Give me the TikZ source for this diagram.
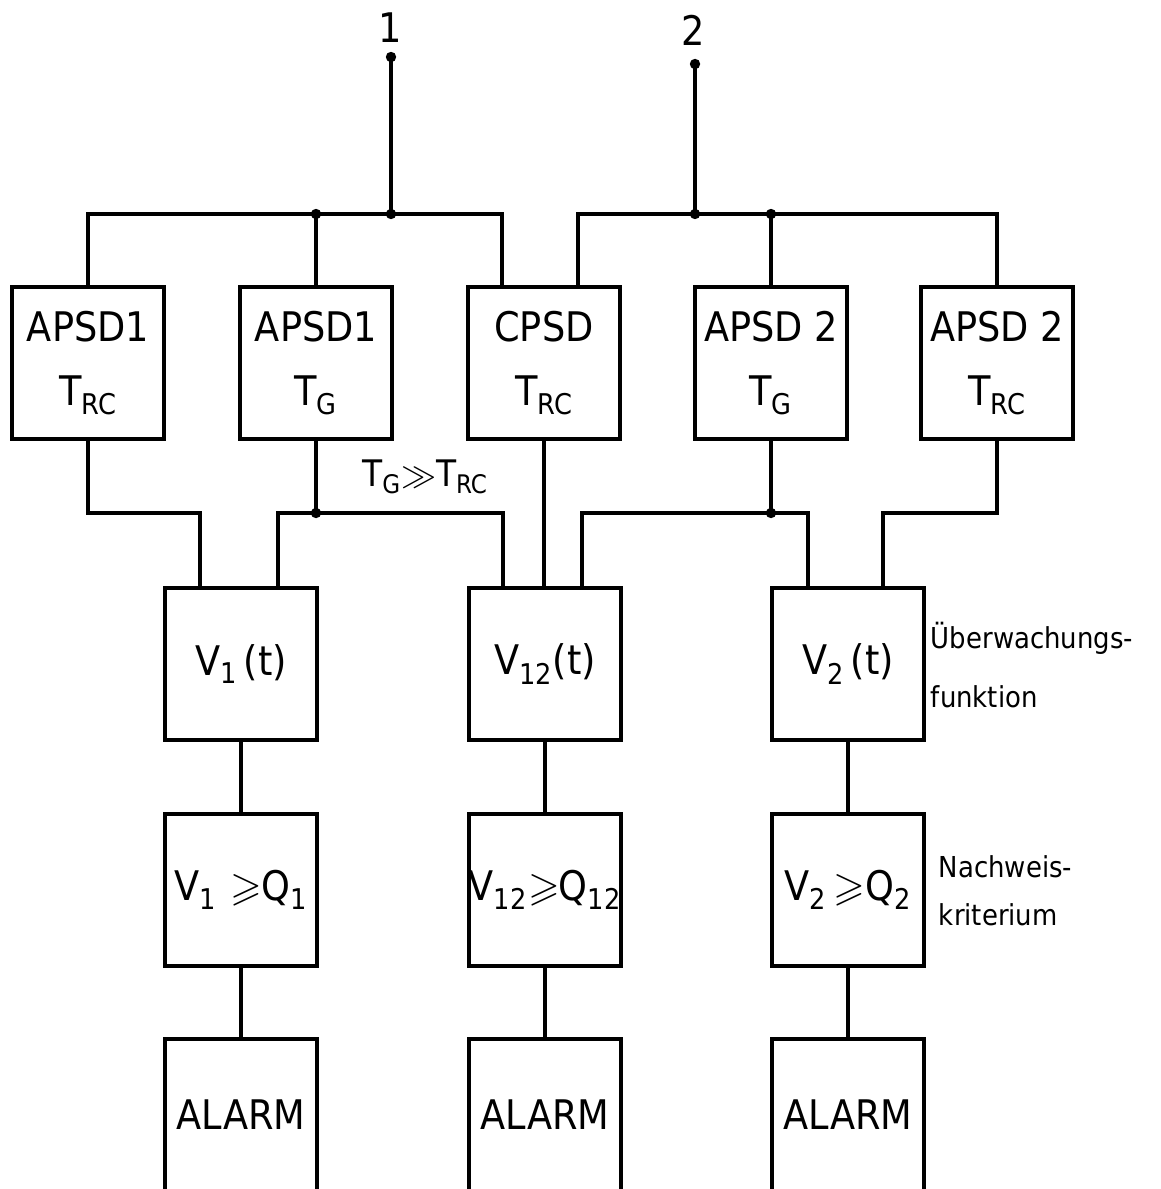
\documentclass[tikz,border=0pt]{standalone}
\usepackage{amssymb}
\usepackage{fontspec}
\setmainfont{DejaVu Sans Condensed}
\usetikzlibrary{calc}

\begin{document}
\begin{tikzpicture}[x=0.025cm, y=-0.025cm, line width=2.8pt,
    blk/.style={draw, minimum width=3.8cm, minimum height=3.8cm, inner sep=0pt, align=center, font=\fontsize{29}{45}\selectfont},
    lbl/.style={inner sep=0pt, font=\fontsize{29}{32}\selectfont},
    note/.style={anchor=west, align=left, inner sep=0pt}]
  \clip (0,0) rectangle (1161,1189);

  % inputs 1 and 2
  \node[lbl] (n1) at (390,28) {1};
  \node[lbl] (n2) at (693,30) {2};
  \coordinate (in1) at (391,57);
  \coordinate (in2) at (695,64);
  \coordinate (t1) at (391,214);
  \coordinate (t2) at (695,214);

  % spectral densities
  \node[blk] (a1) at (88,363) {APSD1\\T\textsubscript{RC}};
  \node[blk] (b1) at (316,363) {APSD1\\T\textsubscript{G}};
  \node[blk] (cpsd) at (544,363) {CPSD\\T\textsubscript{RC}};
  \node[blk] (b2) at (771,363) {APSD 2\\T\textsubscript{G}};
  \node[blk] (a2) at (997,363) {APSD 2\\T\textsubscript{RC}};

  % monitoring, criterion, alarm
  \node[blk] (v1) at (241,664) {V\textsubscript{1}\,(t)};
  \node[blk] (v12) at (545,664) {V\textsubscript{12}(t)};
  \node[blk] (v2) at (848,664) {V\textsubscript{2}\,(t)};
  \node[blk] (q1) at (241,890) {V\textsubscript{1}\,\,$\geqslant$Q\textsubscript{1}};
  \node[blk] (q12) at (545,890) {V\textsubscript{12}\kern1pt$\geqslant$\kern-1pt Q\textsubscript{12}};
  \node[blk] (q2) at (848,890) {V\textsubscript{2}\,$\geqslant$Q\textsubscript{2}};
  \node[blk] (al1) at (241,1115) {ALARM};
  \node[blk] (al12) at (545,1115) {ALARM};
  \node[blk] (al2) at (848,1115) {ALARM};

  \coordinate (jb1) at (316,513);
  \coordinate (jb2) at (771,513);

  % upper buses
  \draw (in1) -- (t1);
  \draw (in2) -- (t2);
  \draw (a1.north) |- (t1) -| ($(cpsd.north)+(-42,0)$);
  \draw (b1.north) -- (b1.north |- t1);
  \draw ($(cpsd.north)+(34,0)$) |- (t2) -| (a2.north);
  \draw (b2.north) -- (b2.north |- t2);
  \foreach \p in {in1,in2,t1,t2} \fill (\p) circle (0.13cm);
  \fill (b1.north |- t1) circle (0.13cm);
  \fill (b2.north |- t2) circle (0.13cm);

  % lower buses
  \draw (a1.south) -- (a1.south |- jb1) -| ($(v1.north)+(-41,0)$);
  \draw (b1.south) -- (jb1);
  \draw ($(v1.north)+(37,0)$) |- (jb1) -| ($(v12.north)+(-42,0)$);
  \draw (cpsd.south) -- (cpsd.south |- v12.north);
  \draw ($(v12.north)+(37,0)$) |- (jb2) -| ($(v2.north)+(-40,0)$);
  \draw (b2.south) -- (jb2);
  \draw (a2.south) -- (a2.south |- jb2) -| ($(v2.north)+(35,0)$);
  \fill (jb1) circle (0.13cm);
  \fill (jb2) circle (0.13cm);
  \node[lbl, font=\fontsize{26}{28}\selectfont] (cmp) at (425,477) {T\textsubscript{G}$\gg$T\textsubscript{RC}};

  % columns
  \draw (v1) -- (q1);
  \draw (v12) -- (q12);
  \draw (v2) -- (q2);
  \draw (q1) -- (al1);
  \draw (q12) -- (al12);
  \draw (q2) -- (al2);

  \node[note, font=\fontsize{20.5}{42}\selectfont] (watch) at (929,665) {Überwachungs-\\funktion};
  \node[note, font=\fontsize{20.5}{34}\selectfont] (crit) at (937,891) {Nachweis-\\kriterium};
\end{tikzpicture}
\end{document}
